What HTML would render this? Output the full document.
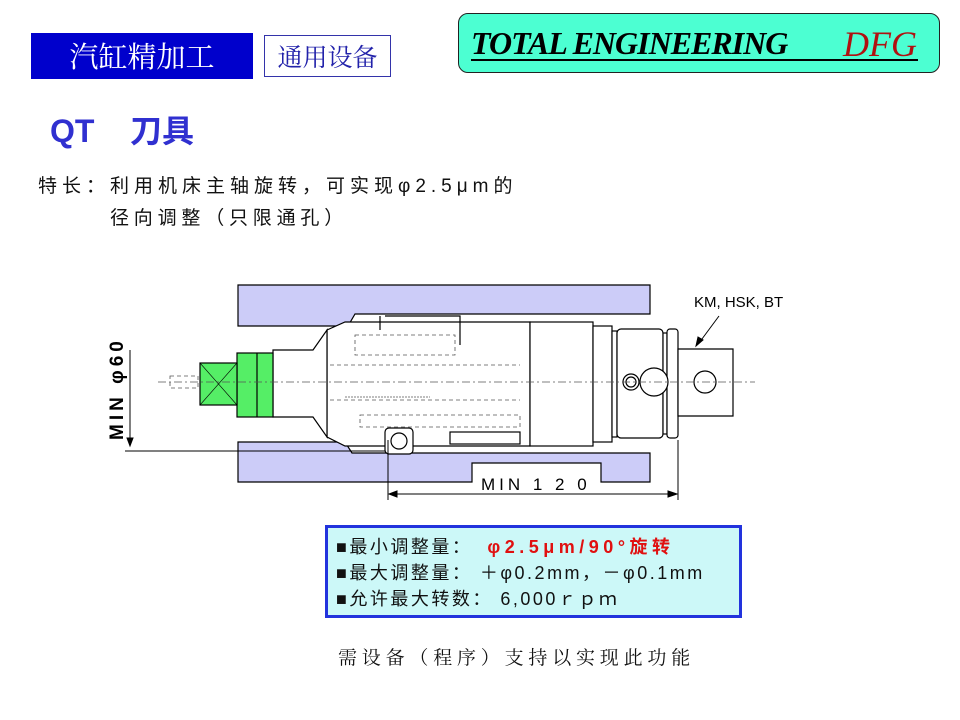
<!DOCTYPE html>
<html><head><meta charset="utf-8"><style>
body{margin:0;width:960px;height:720px;background:#fff;position:relative;overflow:hidden;font-family:"Liberation Sans","Noto Sans CJK SC",sans-serif}
.a{position:absolute;white-space:nowrap}
</style></head><body>
<div class="a" style="left:31px;top:33px;width:222px;height:46px;background:#0000CC;color:#fff;font-size:29px;line-height:46px;text-align:center;font-family:'Noto Serif CJK SC',serif">汽缸精加工</div>
<div class="a" style="left:264px;top:35px;width:125px;height:40px;border:1px solid #3333aa;color:#2222aa;font-size:25px;line-height:40px;text-align:center;font-family:'Noto Serif CJK SC',serif">通用设备</div>
<div class="a" style="left:458px;top:13px;width:480px;height:58px;background:#4CFFD2;border:1px solid #222;border-radius:10px"></div>
<div class="a" style="left:471px;top:25px;font-family:'Liberation Serif',serif;font-style:italic;font-weight:bold;font-size:32px;color:#000;letter-spacing:-1px">TOTAL ENGINEERING</div>
<div class="a" style="left:843px;top:23px;font-family:'Liberation Serif',serif;font-style:italic;font-size:36px;color:#b01010">DFG</div>
<div class="a" style="left:471px;top:59px;width:447px;height:2px;background:#000"></div>
<div class="a" style="left:50px;top:106px;font-size:32px;color:#3030d0;font-weight:bold">QT&nbsp;&nbsp;&nbsp;&nbsp;刀具</div>
<div class="a" style="left:38px;top:171px;font-size:19px;letter-spacing:5px;color:#111">特长：利用机床主轴旋转，可实现φ2.5μm的</div>
<div class="a" style="left:110px;top:203px;font-size:19px;letter-spacing:4.8px;color:#111">径向调整（只限通孔）</div>

<svg class="a" style="left:0;top:0" width="960" height="720">
<g stroke="#000" stroke-width="1.2">
<path d="M238 285H650V314H355L348 326H238Z" fill="#ccccf8"/>
<path d="M238 442H345L352 453H650V482H601V463H472V482H238Z" fill="#ccccf8"/>
<path d="M327 330L345 322H530V446H345L327 437Z" fill="#fff"/>
<path d="M273 350H313L327 330V437L313 417H273Z" fill="#fff"/>
<rect x="237" y="353" width="36" height="64" fill="#55ee66"/>
<rect x="200" y="363" width="37" height="42" fill="#55ee66"/>
<line x1="200" y1="363" x2="237" y2="405" stroke-width="0.6"/><line x1="237" y1="363" x2="200" y2="405" stroke-width="0.6"/>
<line x1="257" y1="353" x2="257" y2="417"/>
<rect x="530" y="322" width="63" height="124" fill="#fff"/>
<rect x="593" y="326" width="19" height="116" fill="#fff"/>
<rect x="612" y="331" width="5" height="106" fill="#fff"/>
<rect x="617" y="329" width="46" height="109" rx="4" fill="#fff"/>
<rect x="663" y="333" width="4" height="101" fill="#fff"/>
<rect x="667" y="329" width="11" height="109" rx="3" fill="#fff"/>
<path d="M678 349H733V416H678Z" fill="#fff"/>
<circle cx="631" cy="382" r="8" fill="#fff"/><circle cx="631" cy="382" r="5" fill="none"/>
<circle cx="654" cy="382" r="14" fill="#fff"/>
<circle cx="705" cy="382" r="11" fill="#fff"/>
<rect x="385" y="428" width="28" height="26" rx="4" fill="#fff"/><circle cx="399" cy="441" r="8" fill="none"/>
<rect x="450" y="432" width="70" height="12" fill="#fff"/>
<path d="M380 316V330M385 316H460V345" fill="none"/>
</g>
<g stroke="#555" stroke-width="0.8" stroke-dasharray="8 3 2 3" fill="none">
<line x1="158" y1="382" x2="755" y2="382"/>
</g>
<g stroke="#555" stroke-width="0.8" stroke-dasharray="4 3" fill="none">
<line x1="330" y1="365" x2="520" y2="365"/><line x1="330" y1="400" x2="520" y2="400"/>
<rect x="355" y="335" width="100" height="20"/><rect x="360" y="415" width="160" height="12"/>
<line x1="345" y1="397" x2="430" y2="397" stroke-dasharray="2 1"/>
<rect x="170" y="376" width="28" height="12"/>
</g>
<g stroke="#000" stroke-width="1" fill="#000">
<line x1="130" y1="350" x2="130" y2="445"/><path d="M127 438L130 446L133 438Z"/>
<line x1="125" y1="451" x2="385" y2="451"/>
<line x1="388" y1="440" x2="388" y2="500"/><line x1="678" y1="440" x2="678" y2="500"/>
<line x1="390" y1="494" x2="676" y2="494"/><path d="M397 491L389 494L397 497Z"/><path d="M668 491L677 494L668 497Z"/>
<line x1="719" y1="316" x2="699" y2="343"/><path d="M696 346L698 337L703 340Z"/>
</g>
<text transform="translate(123,440) rotate(-90)" font-family="Liberation Sans" font-size="19" font-weight="bold" fill="#000" letter-spacing="4">MIN φ60</text>
<text x="481" y="490" font-family="Liberation Sans" font-size="17" fill="#000" letter-spacing="4">MIN 1 2 0</text>
<text x="694" y="307" font-family="Liberation Sans" font-size="15" fill="#000">KM, HSK, BT</text>
</svg>

<div class="a" style="left:325px;top:525px;width:411px;height:87px;background:#ccf8f8;border:3px solid #2233dd"></div>
<div class="a" style="left:336px;top:534px;font-size:18px;line-height:26px;color:#111;letter-spacing:2.5px">■最小调整量：&nbsp;&nbsp;<span style="color:#e01010;font-weight:bold;letter-spacing:4.5px">φ2.5μm/90°旋转</span><br>■最大调整量：&nbsp;＋φ0.2mm，－φ0.1mm<br>■允许最大转数：&nbsp;6,000ｒｐｍ</div>
<div class="a" style="left:338px;top:643px;font-size:19px;letter-spacing:4.8px;color:#111;font-family:'Noto Serif CJK SC',serif">需设备（程序）支持以实现此功能</div>
</body></html>
